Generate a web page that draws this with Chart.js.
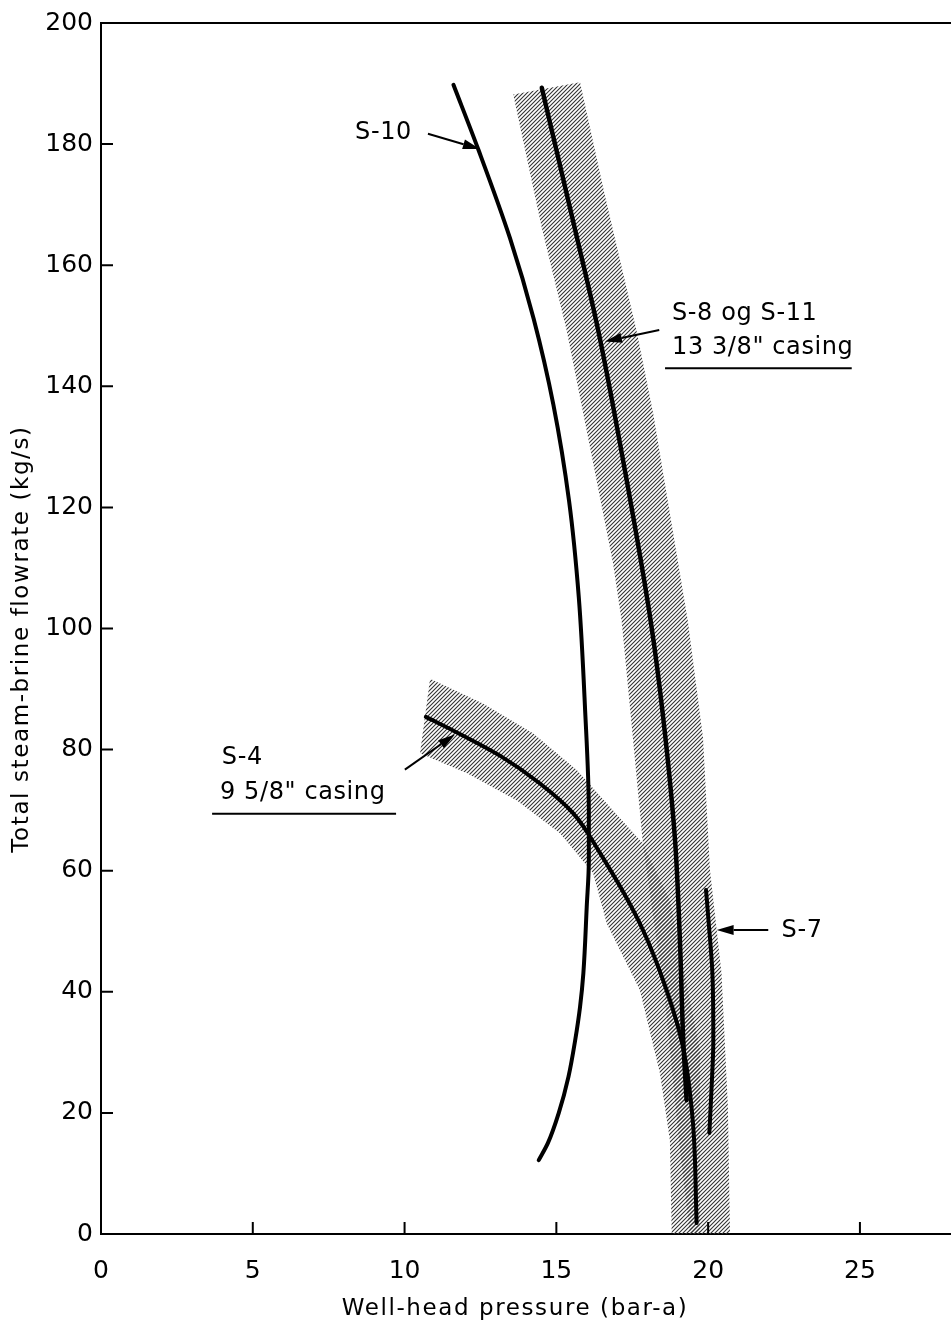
<!DOCTYPE html>
<html>
<head>
<meta charset="utf-8">
<script src="https://cdn.jsdelivr.net/npm/chart.js@4.4.1/dist/chart.umd.min.js"></script>
<style>
  html, body { margin: 0; background: #fff; }
</style>
</head>
<body>
<canvas id="chart" width="951" height="1330"></canvas>
<script>
// axis ticks
const pressureTicks = [0, 5, 10, 15, 20, 25];
const flowTicks = [0, 20, 40, 60, 80, 100, 120, 140, 160, 180, 200];

// S-10 curve
const s10Pressure = [11.61, 12.43, 13.47, 14.25, 14.90, 15.42, 15.74, 15.94, 16.07, 16.07, 16.00, 15.89, 15.78, 15.62, 15.40, 15.08, 14.72, 14.42];
const s10Flow     = [189.8, 179.1, 164.5, 151.2, 137.0, 121.0, 105.1, 87.3, 69.6, 61.7, 54.0, 43.1, 37.5, 32.0, 26.0, 20.0, 15.0, 12.2];

// S-8 og S-11 curve
const s8Pressure = [14.52, 15.55, 16.38, 17.32, 18.12, 18.53, 18.91, 19.07, 19.18, 19.29];
const s8Flow     = [189.3, 167.3, 149.2, 124.4, 100.8, 84.8, 65.0, 48.5, 32.0, 22.1];

// S-4 curve
const s4Pressure = [10.70, 11.66, 13.14, 14.46, 15.55, 16.44, 17.75, 18.63, 19.17, 19.50, 19.62];
const s4Flow     = [85.4, 83.0, 79.0, 74.4, 69.5, 62.9, 51.3, 40.3, 30.9, 18.3, 1.8];

// S-7 curve
const s7Pressure = [19.93, 20.02, 20.14, 20.17, 20.11, 20.04];
const s7Flow     = [56.8, 51.3, 43.1, 32.0, 23.8, 16.7];

// hatched band round S-8/S-11 (outline)
const s8BandPressure = [13.58, 15.78, 16.59, 17.64, 18.19, 18.74, 19.33, 19.83, 20.06, 20.44, 20.65, 20.72, 19.40, 19.07, 18.58, 17.85, 17.52, 17.15, 16.87, 16.11, 15.34, 14.52];
const s8BandFlow     = [188.2, 190.2, 171.7, 149.2, 135.5, 119.0, 101.3, 82.0, 60.1, 43.1, 21.0, 0, 0, 13.9, 38.6, 64.5, 82.0, 101.3, 110.7, 129.9, 149.2, 166.2];

// hatched band round S-4 (outline)
const s4BandPressure = [10.84, 12.58, 14.23, 15.68, 16.86, 17.85, 18.74, 19.73, 19.73, 18.80, 18.74, 18.41, 17.75, 16.66, 16.21, 15.12, 13.70, 12.06, 10.51];
const s4BandFlow     = [91.7, 87.6, 82.7, 76.6, 70.0, 64.5, 55.1, 30.4, 0, 0, 15.5, 26.6, 40.3, 51.3, 59.6, 66.2, 71.6, 76.1, 79.4];

// annotations (data units)
const labels = [
  { text: 'S-10', x: 8.37, y: 181.8 },
  { text: 'S-8 og S-11', x: 18.81, y: 151.9 },
  { text: '13 3/8" casing', x: 18.81, y: 146.3 },
  { text: 'S-4', x: 3.98, y: 78.7 },
  { text: '9 5/8" casing', x: 3.92, y: 72.9 },
  { text: 'S-7', x: 22.42, y: 50.0 }
];
const underlines = [
  { from: 18.58, to: 24.73, y: 143.0 },
  { from: 3.66, to: 9.72, y: 69.4 }
];
const arrows = [
  [10.77, 181.7, 12.48, 179.2],
  [18.39, 149.3, 16.60, 147.4],
  [10.01, 76.7, 11.66, 82.5],
  [21.98, 50.2, 20.28, 50.2]
];
const xTitle = 'Well-head pressure (bar-a)';
const yTitle = 'Total steam-brine flowrate (kg/s)';

const FONT = '"DejaVu Sans", sans-serif';

const pts = (xs, ys) => xs.map((x, i) => ({ x: x, y: ys[i] }));

const canvas = document.getElementById('chart');
const ctx = canvas.getContext('2d');

function hatch() {
  const tile = document.createElement('canvas');
  tile.width = 4;
  tile.height = 4;
  const g = tile.getContext('2d');
  g.strokeStyle = '#333';
  g.lineWidth = 1.1;
  g.beginPath();
  g.moveTo(0, 4); g.lineTo(4, 0);
  g.moveTo(-1, 1); g.lineTo(1, -1);
  g.moveTo(3, 5); g.lineTo(5, 3);
  g.stroke();
  return ctx.createPattern(tile, 'repeat');
}
const pattern = hatch();

function band(xs, ys) {
  return {
    data: pts(xs, ys),
    order: 2,
    showLine: true,
    fill: 'shape',
    backgroundColor: pattern,
    borderWidth: 0,
    borderColor: 'rgba(0,0,0,0)',
    pointRadius: 0,
    tension: 0
  };
}
// curves run mostly up and down, so they are splined along the flow axis
function curve(xs, ys, w) {
  return {
    data: pts(xs, ys),
    order: 1,
    indexAxis: 'y',
    showLine: true,
    fill: false,
    borderColor: '#000',
    borderWidth: w,
    pointRadius: 0,
    cubicInterpolationMode: 'monotone',
    borderCapStyle: 'round'
  };
}

const frame = {
  id: 'frame',
  afterDraw(chart) {
    const c = chart.ctx;
    const a = chart.chartArea;
    const xs = chart.scales.x;
    const ys = chart.scales.y;
    c.save();
    c.strokeStyle = '#000';
    c.lineWidth = 2;
    // top border
    c.beginPath();
    c.moveTo(a.left, a.top);
    c.lineTo(a.right, a.top);
    c.stroke();
    // inward ticks
    c.beginPath();
    flowTicks.forEach(v => {
      const y = ys.getPixelForValue(v);
      c.moveTo(a.left, y);
      c.lineTo(a.left + 12, y);
    });
    pressureTicks.forEach(v => {
      const x = xs.getPixelForValue(v);
      c.moveTo(x, a.bottom);
      c.lineTo(x, a.bottom - 12);
    });
    c.stroke();

    // axis titles
    c.fillStyle = '#000';
    c.font = '23px ' + FONT;
    c.letterSpacing = '1.6px';
    c.textAlign = 'center';
    c.textBaseline = 'middle';
    c.fillText(xTitle, 515, 1309);
    c.save();
    c.translate(22, 639);
    c.rotate(-Math.PI / 2);
    c.fillText(yTitle, 0, 0);
    c.restore();

    // labels
    c.font = '24px ' + FONT;
    c.letterSpacing = '0.6px';
    c.textAlign = 'left';
    labels.forEach(l => {
      c.fillText(l.text, xs.getPixelForValue(l.x), ys.getPixelForValue(l.y));
    });
    c.lineWidth = 2;
    c.beginPath();
    underlines.forEach(u => {
      const y = ys.getPixelForValue(u.y);
      c.moveTo(xs.getPixelForValue(u.from), y);
      c.lineTo(xs.getPixelForValue(u.to), y);
    });
    c.stroke();

    // arrows
    arrows.forEach(([x1, y1, x2, y2]) => {
      const px1 = xs.getPixelForValue(x1), py1 = ys.getPixelForValue(y1);
      const px2 = xs.getPixelForValue(x2), py2 = ys.getPixelForValue(y2);
      const ang = Math.atan2(py2 - py1, px2 - px1);
      const len = 17, half = 5;
      const bx = px2 - Math.cos(ang) * len, by = py2 - Math.sin(ang) * len;
      c.lineWidth = 2;
      c.beginPath();
      c.moveTo(px1, py1);
      c.lineTo(bx, by);
      c.stroke();
      c.beginPath();
      c.moveTo(px2, py2);
      c.lineTo(bx - Math.sin(ang) * half, by + Math.cos(ang) * half);
      c.lineTo(bx + Math.sin(ang) * half, by - Math.cos(ang) * half);
      c.closePath();
      c.fill();
    });
    c.restore();
  }
};

new Chart(ctx, {
  type: 'scatter',
  data: {
    datasets: [
      band(s8BandPressure, s8BandFlow),
      band(s4BandPressure, s4BandFlow),
      curve(s10Pressure, s10Flow, 4),
      curve(s8Pressure, s8Flow, 4.5),
      curve(s4Pressure, s4Flow, 4),
      curve(s7Pressure, s7Flow, 4)
    ]
  },
  options: {
    responsive: false,
    devicePixelRatio: 1,
    animation: false,
    layout: { padding: { top: 22, right: 0, left: 0, bottom: 0 } },
    plugins: {
      legend: { display: false },
      tooltip: { enabled: false }
    },
    scales: {
      x: {
        type: 'linear',
        min: 0,
        max: 28,
        afterBuildTicks: s => { s.ticks = pressureTicks.map(v => ({ value: v })); },
        afterFit: s => { s.height = 96; },
        grid: { display: false, drawTicks: false },
        border: { display: true, color: '#000', width: 2 },
        ticks: { color: '#000', padding: 22, font: { family: FONT, size: 25 }, maxRotation: 0 },
        title: { display: false, text: xTitle }
      },
      y: {
        type: 'linear',
        min: 0,
        max: 200,
        afterBuildTicks: s => { s.ticks = flowTicks.map(v => ({ value: v })); },
        afterFit: s => { s.width = 101; },
        grid: { display: false, drawTicks: false },
        border: { display: true, color: '#000', width: 2 },
        ticks: { color: '#000', padding: 8, font: { family: FONT, size: 25 } },
        title: { display: false, text: yTitle }
      }
    }
  },
  plugins: [frame]
});
</script>
</body>
</html>
